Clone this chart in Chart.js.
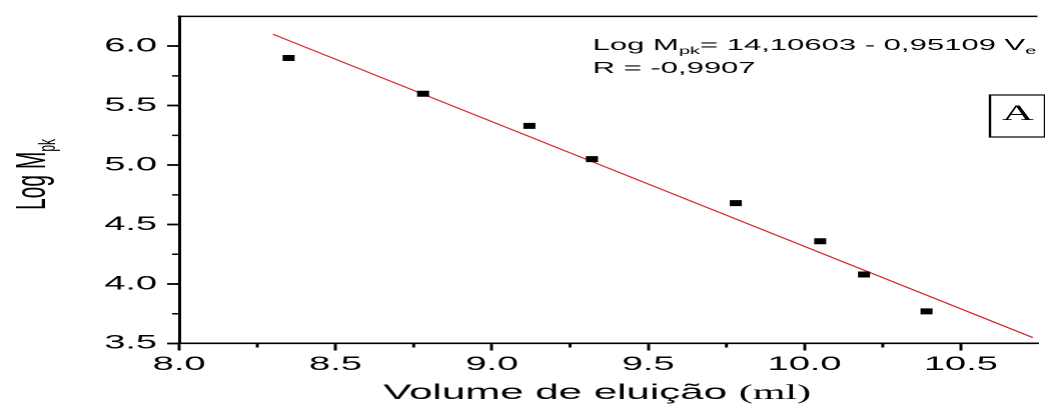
<!DOCTYPE html>
<html>
<head>
<meta charset="utf-8">
<script src="https://cdn.jsdelivr.net/npm/chart.js@4.4.1/dist/chart.umd.min.js"></script>
<style>
  html, body { margin: 0; padding: 0; background: #fff; overflow: hidden; }
  /* the original figure is stretched 2x horizontally, so draw at half width and stretch */
  #wrap { position: absolute; left: 0; top: 0; width: 522.5px; height: 409px; transform: scaleX(2); transform-origin: 0 0; }
</style>
</head>
<body>
<div id="wrap"><canvas id="calib"></canvas></div>
<script>
// data
const volume = [8.35, 8.78, 9.12, 9.32, 9.78, 10.05, 10.19, 10.39];
const logM = [5.90, 5.60, 5.33, 5.05, 4.68, 4.36, 4.08, 3.77];
const fitVolume = [8.30, 10.73];
const fitLogM = [6.10, 3.55];

const xTicks = [8.0, 8.5, 9.0, 9.5, 10.0, 10.5];
const xTickLabels = ['8.0', '8.5', '9.0', '9.5', '10.0', '10.5'];
const xMinor = [8.25, 8.75, 9.25, 9.75, 10.25];
const yTicks = [3.5, 4.0, 4.5, 5.0, 5.5, 6.0];
const yTickLabels = ['3.5', '4.0', '4.5', '5.0', '5.5', '6.0'];
const yMinor = [3.75, 4.25, 4.75, 5.25, 5.75];

const SANS = "'Liberation Sans', Arial, sans-serif";
const SERIF = "'Liberation Serif', 'Times New Roman', serif";

//------------------------------------------

function drawRuns(ctx, x, y, runs) {
  runs.forEach(r => {
    ctx.font = r.font;
    ctx.fillText(r.t, x, y + (r.dy || 0));
    x += ctx.measureText(r.t).width;
  });
}

// frame top, minor ticks and all the free text
const extras = {
  id: 'extras',
  afterDraw(chart) {
    const {ctx, chartArea: a, scales: {x, y}} = chart;
    ctx.save();
    ctx.strokeStyle = '#000';
    ctx.lineWidth = 1.5;
    ctx.beginPath();
    ctx.moveTo(a.left - 0.75, a.top);
    ctx.lineTo(a.right, a.top);
    ctx.stroke();

    ctx.beginPath();
    xMinor.forEach(v => { const p = x.getPixelForValue(v); ctx.moveTo(p, a.bottom); ctx.lineTo(p, a.bottom + 4); });
    yMinor.forEach(v => { const p = y.getPixelForValue(v); ctx.moveTo(a.left, p); ctx.lineTo(a.left - 3.5, p); });
    ctx.stroke();

    ctx.fillStyle = '#000';
    ctx.textBaseline = 'alphabetic';
    ctx.textAlign = 'left';

    // equation
    drawRuns(ctx, 296, 50, [
      {t: 'Log M', font: '15.5px ' + SANS},
      {t: 'pk', font: '10px ' + SANS, dy: 4},
      {t: '= 14,10603 - 0,95109 V', font: '15.5px ' + SANS},
      {t: 'e', font: '10px ' + SANS, dy: 4}
    ]);
    drawRuns(ctx, 296, 73, [{t: 'R = -0,9907', font: '15.5px ' + SANS}]);

    // panel label
    ctx.lineWidth = 1.2;
    ctx.strokeRect(494.5, 95, 27.5, 42);
    ctx.font = '22px ' + SERIF;
    ctx.textAlign = 'center';
    ctx.fillText('A', 508.5, 120);
    ctx.textAlign = 'left';

    // x title
    drawRuns(ctx, 191.5, 399, [
      {t: 'Volume de eluição ', font: '21px ' + SANS},
      {t: '(ml)', font: '21px ' + SERIF}
    ]);

    // y title
    ctx.translate(22.5, 210);
    ctx.rotate(-Math.PI / 2);
    drawRuns(ctx, 0, 0, [
      {t: 'Log M', font: '21px ' + SANS},
      {t: 'pk', font: '12px ' + SANS, dy: 5}
    ]);
    ctx.restore();
  }
};

//------------------------------------------

const pts = volume.map((v, i) => ({x: v, y: logM[i]}));
const fit = fitVolume.map((v, i) => ({x: v, y: fitLogM[i]}));

const config = {
  type: 'scatter',
  data: {
    datasets: [
      {label: 'fit', type: 'line', data: fit, borderColor: 'rgb(215,35,35)', borderWidth: 1, pointRadius: 0, fill: false, order: 2},
      {label: 'data', data: pts, pointStyle: 'rect', pointRadius: 4.25, pointHoverRadius: 4.25, backgroundColor: '#000', borderWidth: 0, order: 1}
    ]
  },
  options: {
    responsive: true,
    maintainAspectRatio: false,
    devicePixelRatio: 2,
    animation: false,
    events: [],
    layout: {padding: {top: 16, right: 0, left: 0, bottom: 0}},
    plugins: {legend: {display: false}, tooltip: {enabled: false}},
    scales: {
      x: {
        type: 'linear', min: 8, max: 10.745,
        afterFit: s => { s.height = 65.5; },
        afterBuildTicks: s => { s.ticks = xTicks.map(v => ({value: v})); },
        border: {color: '#000', width: 1.6},
        grid: {drawOnChartArea: false, drawTicks: true, tickLength: 7, tickColor: '#000', tickWidth: 1.5},
        ticks: {color: '#000', padding: 3, maxRotation: 0, autoSkip: false, font: {family: SANS, size: 19},
                callback: (v, i) => xTickLabels[i]}
      },
      y: {
        type: 'linear', min: 3.5, max: 6.25,
        afterFit: s => { s.width = 89.5; },
        afterBuildTicks: s => { s.ticks = yTicks.map(v => ({value: v})); },
        border: {color: '#000', width: 1.5},
        grid: {drawOnChartArea: false, drawTicks: true, tickLength: 6, tickColor: '#000', tickWidth: 1.8},
        ticks: {color: '#000', padding: 5, autoSkip: false, font: {family: SANS, size: 19},
                callback: (v, i) => yTickLabels[i]}
      }
    }
  },
  plugins: [extras]
};

const calib = new Chart(document.getElementById('calib'), config);
</script>
</body>
</html>
